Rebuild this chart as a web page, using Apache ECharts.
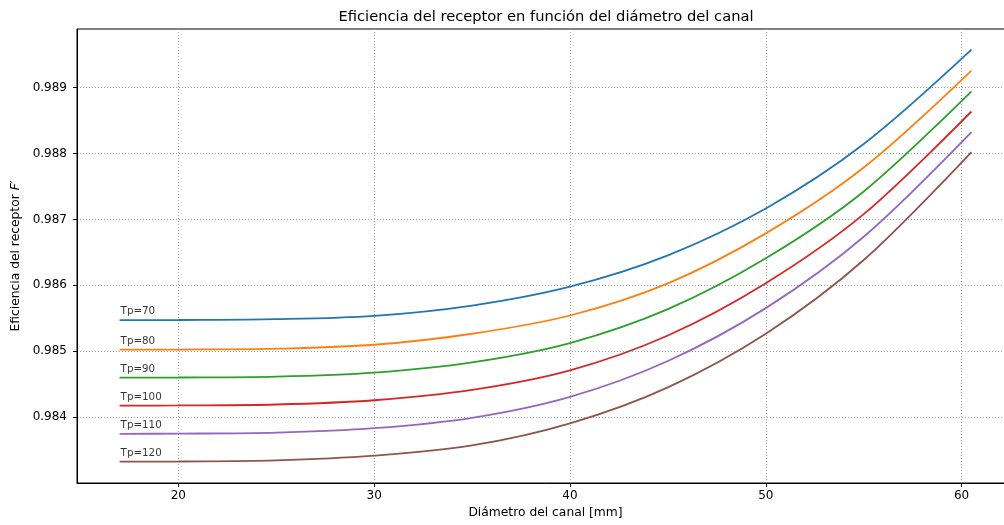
<!DOCTYPE html>
<html>
<head>
  <meta charset="utf-8">
  <title>Eficiencia del receptor</title>
  <script src="https://cdn.jsdelivr.net/npm/echarts@6/dist/echarts.min.js"></script>
  <style>
    html, body {
      margin: 0;
      padding: 0;
      background: #fff;
      overflow: hidden;
    }

    /* el eje sigue más allá del borde derecho, como en la figura recortada */
    #receptor-chart {
      width: 1020px;
      height: 525px;
    }
  </style>
</head>
<body>
<div id="receptor-chart"></div>
<script>
// diámetro del canal [mm]
const diametros = [17, 20, 25, 30, 35, 40, 45, 50, 55, 60.5]

// eficiencia F' para cada temperatura de placa
const tp70 = [0.985472, 0.985474, 0.985486, 0.985537, 0.985693, 0.985980, 0.986455, 0.987166, 0.988144, 0.989576]
const tp80 = [0.985023, 0.985025, 0.985038, 0.985098, 0.985265, 0.985542, 0.986030, 0.986788, 0.987787, 0.989259]
const tp90 = [0.984599, 0.984601, 0.984614, 0.984675, 0.984831, 0.985124, 0.985638, 0.986410, 0.987424, 0.988945]
const tp100 = [0.984175, 0.984177, 0.984191, 0.984256, 0.984413, 0.984710, 0.985239, 0.986032, 0.987080, 0.988638]
const tp110 = [0.983747, 0.983749, 0.983764, 0.983832, 0.983989, 0.984307, 0.984852, 0.985654, 0.986737, 0.988325]
const tp120 = [0.983324, 0.983326, 0.983342, 0.983415, 0.983570, 0.983905, 0.984452, 0.985265, 0.986384, 0.988023]

const etiquetas = ['Tp=70', 'Tp=80', 'Tp=90', 'Tp=100', 'Tp=110', 'Tp=120']
const xTicks = [20, 30, 40, 50, 60]
const yTicks = [0.984, 0.985, 0.986, 0.987, 0.988, 0.989]

const colores = ['#1f77b4', '#ff7f0e', '#2ca02c', '#d62728', '#9467bd', '#8c564b']
const curvas = [tp70, tp80, tp90, tp100, tp110, tp120]
const fuente = 'DejaVu Sans'

const chart = echarts.init(document.getElementById('receptor-chart'))

const series = []
curvas.forEach((valores, i) => {
  series.push({
    name: etiquetas[i],
    type: 'line',
    data: diametros.map((d, j) => [d, valores[j]]),
    showSymbol: false,
    smooth: 0.33,
    lineStyle: {
      color: colores[i],
      width: 1.8
    },
    itemStyle: {
      color: colores[i]
    },
    z: 3
  })
  // texto "Tp=.." al inicio de cada curva
  series.push({
    type: 'scatter',
    data: [[diametros[0], valores[0]]],
    symbolSize: 0,
    label: {
      show: true,
      formatter: etiquetas[i],
      position: [1, -3.5],
      align: 'left',
      verticalAlign: 'bottom',
      fontFamily: fuente,
      fontSize: 10.3,
      color: '#000'
    },
    silent: true,
    z: 4
  })
})

chart.setOption({
  animation: false,
  backgroundColor: '#fff',
  title: {
    text: 'Eficiencia del receptor en función del diámetro del canal',
    left: 541,
    top: 5,
    textAlign: 'center',
    textStyle: {
      fontFamily: fuente,
      fontSize: 14.7,
      fontWeight: 'normal',
      color: '#000'
    }
  },
  grid: {
    left: 77,
    top: 29,
    right: 6,
    bottom: 42,
    show: true,
    borderColor: '#000',
    borderWidth: 1,
    backgroundColor: 'transparent'
  },
  xAxis: {
    type: 'value',
    min: 14.825,
    max: 62.675,
    name: 'Diámetro del canal [mm]',
    nameLocation: 'middle',
    nameGap: 22,
    nameTextStyle: {
      fontFamily: fuente,
      fontSize: 12.3,
      color: '#000'
    },
    axisLine: {
      lineStyle: { color: '#000', width: 1 }
    },
    axisTick: {
      length: 4,
      customValues: xTicks,
      lineStyle: { color: '#000' }
    },
    axisLabel: {
      customValues: xTicks,
      margin: 7,
      fontFamily: fuente,
      fontSize: 12,
      color: '#000'
    },
    splitLine: {
      show: true,
      lineStyle: { color: '#a0a0a0', type: [1, 2], width: 1 }
    }
  },
  yAxis: {
    type: 'value',
    min: 0.983,
    max: 0.98989,
    scale: true,
    name: '{n|Eficiencia del receptor }{i|F′}',
    nameLocation: 'middle',
    nameGap: 53,
    nameTextStyle: {
      rich: {
        n: { fontFamily: fuente, fontSize: 12.3, color: '#000' },
        i: { fontFamily: fuente, fontSize: 12.3, fontStyle: 'italic', color: '#000' }
      }
    },
    axisLine: {
      show: true,
      lineStyle: { color: '#000', width: 1 }
    },
    axisTick: {
      show: true,
      length: 4,
      customValues: yTicks,
      lineStyle: { color: '#000' }
    },
    axisLabel: {
      customValues: yTicks,
      margin: 10,
      fontFamily: fuente,
      fontSize: 12,
      color: '#000',
      formatter: v => v.toFixed(3)
    },
    splitLine: {
      show: true,
      lineStyle: { color: '#a0a0a0', type: [1, 2], width: 1 }
    }
  },
  series: series
})
</script>
</body>
</html>
